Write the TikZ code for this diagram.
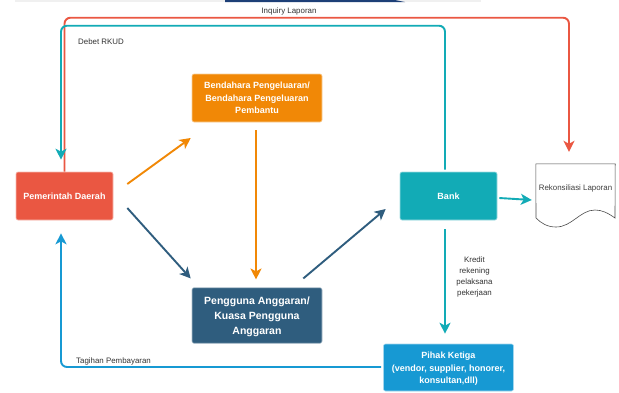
\documentclass[tikz,border=0pt]{standalone}
\usepackage{fontspec}
\setmainfont{Liberation Sans}
\usetikzlibrary{arrows.meta,calc}
\definecolor{cred}{HTML}{EA5742}
\definecolor{cteal}{HTML}{12ABB6}
\definecolor{corange}{HTML}{F18806}
\definecolor{cnavy}{HTML}{2F5D7E}
\definecolor{cblue}{HTML}{1799D3}
\definecolor{cstrip}{HTML}{F0F0F0}
\definecolor{cdark}{HTML}{1D3F77}
\tikzset{
  box/.style={rectangle,rounded corners=2pt,draw=white!60!#1,fill=#1,line width=0.6pt,text=white,align=center,inner sep=0pt,font=\bfseries\fontsize{9}{12.5}\selectfont},
  conn/.style={draw=#1,line width=1.9pt,rounded corners=6pt,-{Stealth[length=11pt,width=11pt,inset=3pt]}},
  lbl/.style={inner sep=0pt,text=black!80,align=center,font=\fontsize{7.9}{11.3}\selectfont},
}
\begin{document}
\begin{tikzpicture}[x=1pt,y=-1pt]
\useasboundingbox (0,0) rectangle (619,392);
\fill[white] (0,0) rectangle (619,392);
\fill[cstrip] (15,0) rectangle (481,2);
\fill[cdark] (225,0) -- (395,0) -- (405,2) -- (225,2) -- cycle;
\node[box=cred,minimum width=97pt,minimum height=48pt] (pem) at (64.5,196) {Pemerintah Daerah};
\node[box=corange,minimum width=130pt,minimum height=48pt] (ben) at (257,98) {Bendahara Pengeluaran/\\Bendahara Pengeluaran\\Pembantu};
\node[box=cnavy,minimum width=130pt,minimum height=55.5pt] (pen) at (257,315.5) {};
\node[text=white,align=center,inner sep=0pt,font=\bfseries\fontsize{10.5}{15}\selectfont] (pent) at (257,317) {Pengguna Anggaran/\\Kuasa Pengguna\\Anggaran};
\node[box=cteal,minimum width=97pt,minimum height=48pt] (bank) at (448.5,196) {Bank};
\node[box=cblue,minimum width=130pt,minimum height=47pt] (pih) at (448.5,367.5) {};
\node[text=white,align=center,inner sep=0pt,font=\bfseries\fontsize{9}{12.5}\selectfont] (piht) at (448.5,369) {Pihak Ketiga\\(vendor, supplier, honorer,\\konsultan,dll)};
\node[lbl,minimum width=79pt,minimum height=64pt] (doc) at (575.5,196) {};
\node[lbl,anchor=center,text=black!75] (doct) at (575.5,188) {Rekonsiliasi Laporan};
\draw[black!70,line width=0.6pt] (doc.north west) -- (doc.north east) -- (615,218)
  .. controls (608,213) and (602,210) .. (595,210)
  .. controls (580,210) and (572,227) .. (556,227)
  .. controls (547,227) and (541,223) .. (536,218) -- cycle;
\draw[conn=cred] (pem.north) -- ++(0,-154) -| ($(doc.north)+(-6.5,-12)$);
\draw[conn=cteal] ($(bank.north)+(-3.5,-2)$) -- ++(0,-144) -| ($(pem.north)+(-3.5,-12)$);
\draw[conn=corange] ($(pem.east)+(14,-12)$) -- ($(ben.west)+(-1,40)$);
\draw[conn=cnavy] ($(pem.east)+(14,12)$) -- ($(pen.north west)+(-1,-9)$);
\draw[conn=corange] ($(ben.south)+(-1,8)$) -- ($(pen.north)+(-1,-8)$);
\draw[conn=cnavy] ($(pen.north east)+(-19,-9)$) -- ($(bank.west)+(-14,13)$);
\draw[conn=cteal] ($(bank.east)+(2,2)$) -- ($(doc.west)+(-4,4)$);
\draw[conn=cteal] ($(bank.south)+(-3.5,9)$) -- ($(pih.north)+(-3.5,-10)$);
\draw[conn=cblue] ($(pih.west)+(-2,-0.5)$) -| ($(pem.south)+(-3.5,13)$);
\node[lbl] (l1) at (289,11) {Inquiry Laporan};
\node[lbl,anchor=west] (l2) at (78,42) {Debet RKUD};
\node[lbl,anchor=west] (l3) at (76,361) {Tagihan Pembayaran};
\node[lbl] (l4) at (474.5,277) {Kredit\\rekening\\pelaksana\\pekerjaan};
\end{tikzpicture}
\end{document}
